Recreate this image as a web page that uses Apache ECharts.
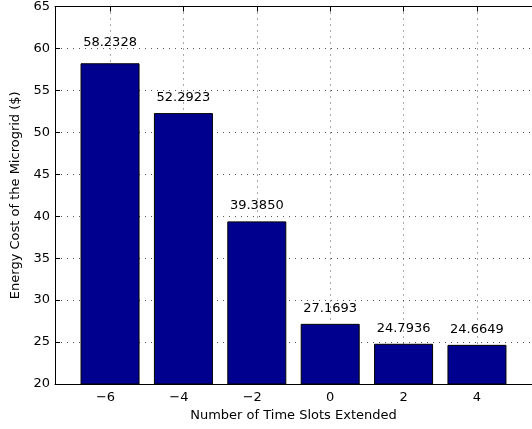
<!DOCTYPE html>
<html>
<head>
<meta charset="utf-8">
<script src="https://cdn.jsdelivr.net/npm/echarts@6/dist/echarts.min.js"></script>
<style>
  html, body { margin: 0; padding: 0; background: #fff; }
  #chart { width: 532px; height: 429px; }
</style>
</head>
<body>
<div id="chart"></div>
<script>
// Time-slot offsets and the resulting microgrid energy cost
const slotOffsets = [-6, -4, -2, 0, 2, 4];
const energyCost = [58.2328, 52.2923, 39.3850, 27.1693, 24.7936, 24.6649];
const costLabels = ['58.2328', '52.2923', '39.3850', '27.1693', '24.7936', '24.6649'];

const FONT = '"DejaVu Sans", Verdana, sans-serif';
const FS = 13;

const chart = echarts.init(document.getElementById('chart'), null, { renderer: 'canvas' });

const dotted = { color: '#555', width: 1, type: [1, 5] };

// negative tick labels keep their digit on the tick, with the minus hanging left
const tickLabel = v => (v < 0 ? '{neg|\u2212' + Math.abs(v) + '}' : '{pos|' + v + '}');

// value annotations sit just above each bar; the tallest one is lifted a little more
const labelGap = i => (i === 0 ? 14 : 9);

chart.setOption({
  animation: false,
  backgroundColor: '#fff',
  grid: { left: 55, right: -6, top: 4, bottom: 45, containLabel: false },
  xAxis: [
    {
      type: 'value',
      min: -7.5,
      max: 5.5,
      position: 'bottom',
      name: 'Number of Time Slots Extended',
      nameLocation: 'middle',
      nameGap: 24,
      nameTextStyle: { fontFamily: FONT, fontSize: FS, color: '#000' },
      axisLine: { show: true, onZero: false, lineStyle: { color: '#000', width: 1 } },
      axisTick: { show: true, inside: true, length: 5, customValues: slotOffsets, lineStyle: { color: '#000' } },
      axisLabel: {
        show: true, customValues: slotOffsets, margin: 7,
        fontFamily: FONT, fontSize: FS, color: '#000',
        formatter: tickLabel,
        rich: {
          neg: { fontFamily: FONT, fontSize: FS, color: '#000', padding: [0, 9, 0, 0] },
          pos: { fontFamily: FONT, fontSize: FS, color: '#000' }
        }
      },
      splitLine: { show: true, lineStyle: dotted }
    },
    {
      type: 'value',
      min: -7.5,
      max: 5.5,
      position: 'top',
      axisLine: { show: true, onZero: false, lineStyle: { color: '#000', width: 1 } },
      axisTick: { show: true, inside: true, length: 5, customValues: slotOffsets, lineStyle: { color: '#000' } },
      axisLabel: { show: false },
      splitLine: { show: false }
    }
  ],
  yAxis: {
    type: 'value',
    min: 20,
    max: 65,
    interval: 5,
    name: 'Energy Cost of the Microgrid ($)',
    nameLocation: 'middle',
    nameGap: 28,
    nameTextStyle: { fontFamily: FONT, fontSize: FS, color: '#000' },
    axisLine: { show: true, onZero: false, lineStyle: { color: '#000', width: 1 } },
    axisTick: { show: true, inside: true, length: 5, lineStyle: { color: '#000' } },
    axisLabel: { show: true, margin: 5, fontFamily: FONT, fontSize: FS, color: '#000' },
    splitLine: { show: true, lineStyle: dotted }
  },
  series: [
    {
      type: 'bar',
      xAxisIndex: 0,
      barWidth: 59,
      clip: true,
      itemStyle: { color: '#00008F', borderColor: '#000', borderWidth: 1 },
      label: {
        show: true,
        position: 'top',
        fontFamily: FONT,
        fontSize: FS,
        color: '#000',
        formatter: p => costLabels[p.dataIndex]
      },
      data: slotOffsets.map((x, i) => ({
        value: [x, energyCost[i]],
        label: { distance: labelGap(i) }
      }))
    }
  ]
});
</script>
</body>
</html>
